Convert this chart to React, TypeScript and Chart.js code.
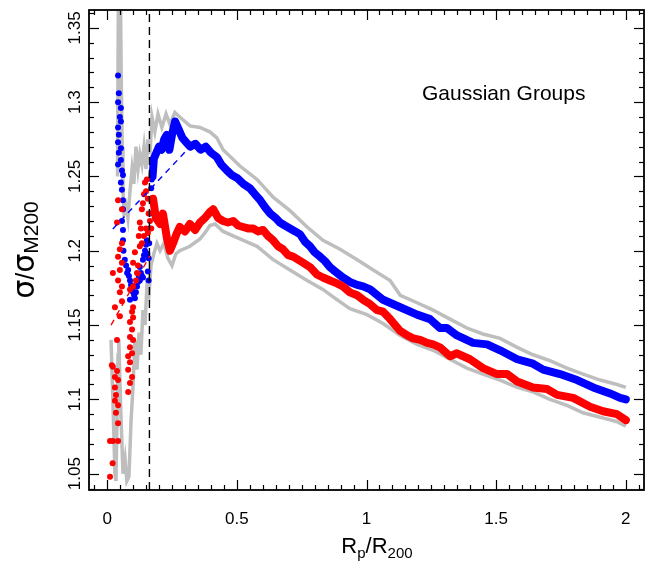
import React, { useEffect, useRef } from "react";
import { Chart, registerables } from "chart.js";

Chart.register(...registerables);

// ---- axis ranges and ticks ----
const xRange = [-0.07, 2.07];
const yRange = [1.039, 1.362];
const xTicks = [0, 0.5, 1, 1.5, 2];
const xTickLabels = ["0", "0.5", "1", "1.5", "2"];
const yTicks = [1.05, 1.1, 1.15, 1.2, 1.25, 1.3, 1.35];
const yTickLabels = ["1.05", "1.1", "1.15", "1.2", "1.25", "1.3", "1.35"];
const xMinorStep = 0.05;
const yMinorStep = 0.01;
const panelTitle = "Gaussian Groups";

// ---- data ----
const cutRadius = 0.163;

const blueDotsX = [0.042, 0.045, 0.042, 0.053, 0.049, 0.053, 0.042, 0.045, 0.042, 0.053, 0.045, 0.053, 0.042, 0.057, 0.061, 0.053, 0.057, 0.061, 0.061, 0.057, 0.061, 0.061, 0.063, 0.068, 0.073, 0.077, 0.081, 0.084, 0.088, 0.092, 0.096, 0.088, 0.100, 0.104, 0.107, 0.111, 0.115, 0.119, 0.122, 0.126, 0.130, 0.126, 0.134, 0.138, 0.138, 0.142, 0.146, 0.150, 0.153, 0.155, 0.157, 0.160, 0.160, 0.162, 0.164, 0.166, 0.168, 0.170, 0.172];
const blueDotsY = [1.318, 1.306, 1.300, 1.296, 1.290, 1.287, 1.283, 1.278, 1.273, 1.269, 1.266, 1.261, 1.258, 1.254, 1.251, 1.246, 1.241, 1.234, 1.228, 1.220, 1.214, 1.207, 1.200, 1.194, 1.190, 1.185, 1.187, 1.183, 1.180, 1.177, 1.174, 1.167, 1.172, 1.170, 1.168, 1.172, 1.176, 1.179, 1.183, 1.180, 1.185, 1.189, 1.183, 1.182, 1.194, 1.197, 1.200, 1.204, 1.207, 1.198, 1.186, 1.180, 1.195, 1.205, 1.215, 1.225, 1.235, 1.242, 1.248];

const blueLineX = [0.175, 0.180, 0.190, 0.200, 0.210, 0.220, 0.230, 0.240, 0.250, 0.262, 0.275, 0.290, 0.305, 0.320, 0.340, 0.360, 0.380, 0.400, 0.423, 0.440, 0.462, 0.480, 0.501, 0.525, 0.551, 0.570, 0.590, 0.610, 0.629, 0.650, 0.666, 0.685, 0.705, 0.725, 0.744, 0.763, 0.782, 0.800, 0.821, 0.840, 0.859, 0.880, 0.909, 0.936, 0.964, 0.987, 1.014, 1.064, 1.130, 1.195, 1.245, 1.283, 1.310, 1.349, 1.411, 1.465, 1.515, 1.581, 1.642, 1.681, 1.746, 1.812, 1.874, 1.939, 1.978, 2.000];
const blueLineY = [1.250, 1.262, 1.266, 1.270, 1.268, 1.275, 1.278, 1.268, 1.278, 1.287, 1.282, 1.276, 1.273, 1.270, 1.272, 1.268, 1.270, 1.266, 1.263, 1.258, 1.254, 1.251, 1.249, 1.245, 1.242, 1.238, 1.234, 1.229, 1.225, 1.222, 1.219, 1.217, 1.215, 1.213, 1.211, 1.206, 1.203, 1.199, 1.196, 1.193, 1.189, 1.186, 1.182, 1.179, 1.177, 1.176, 1.174, 1.167, 1.162, 1.157, 1.154, 1.148, 1.148, 1.143, 1.138, 1.137, 1.133, 1.127, 1.124, 1.120, 1.117, 1.113, 1.108, 1.104, 1.101, 1.100];

const redDotsX = [0.011, 0.021, 0.011, 0.022, 0.042, 0.042, 0.034, 0.042, 0.030, 0.034, 0.030, 0.042, 0.030, 0.038, 0.018, 0.022, 0.038, 0.049, 0.030, 0.057, 0.049, 0.057, 0.042, 0.022, 0.049, 0.057, 0.042, 0.049, 0.057, 0.038, 0.057, 0.042,
  0.081, 0.088, 0.096, 0.081, 0.088, 0.081, 0.096, 0.088, 0.100, 0.088, 0.096, 0.088, 0.100, 0.096, 0.100, 0.088, 0.100, 0.111, 0.115, 0.119, 0.100, 0.107, 0.126, 0.122, 0.130, 0.126, 0.134, 0.138, 0.142, 0.146, 0.153, 0.150, 0.157, 0.134, 0.142, 0.150, 0.157, 0.160, 0.165, 0.170];
const redDotsY = [1.048, 1.057, 1.072, 1.072, 1.072, 1.084, 1.091, 1.096, 1.099, 1.103, 1.108, 1.113, 1.115, 1.119, 1.123, 1.122, 1.140, 1.156, 1.162, 1.166, 1.172, 1.176, 1.180, 1.185, 1.187, 1.192, 1.196, 1.201, 1.205, 1.219, 1.228, 1.234,
  1.105, 1.111, 1.115, 1.120, 1.125, 1.129, 1.131, 1.135, 1.140, 1.142, 1.147, 1.152, 1.155, 1.159, 1.162, 1.174, 1.176, 1.180, 1.185, 1.190, 1.192, 1.199, 1.203, 1.210, 1.215, 1.219, 1.228, 1.232, 1.238, 1.246, 1.248, 1.240, 1.235, 1.205, 1.210, 1.215, 1.212, 1.225, 1.220, 1.215];

const redLineX = [0.177, 0.188, 0.204, 0.215, 0.231, 0.242, 0.254, 0.269, 0.280, 0.300, 0.319, 0.339, 0.358, 0.377, 0.396, 0.409, 0.428, 0.447, 0.466, 0.486, 0.505, 0.524, 0.543, 0.563, 0.582, 0.601, 0.620, 0.640, 0.659, 0.678, 0.698, 0.717, 0.736, 0.755, 0.782, 0.809, 0.832, 0.859, 0.886, 0.909, 0.936, 0.964, 0.987, 1.014, 1.041, 1.064, 1.091, 1.130, 1.157, 1.180, 1.207, 1.234, 1.257, 1.283, 1.322, 1.349, 1.360, 1.399, 1.449, 1.503, 1.542, 1.581, 1.642, 1.696, 1.735, 1.797, 1.862, 1.912, 1.966, 2.000];
const redLineY = [1.235, 1.222, 1.218, 1.225, 1.208, 1.200, 1.205, 1.212, 1.216, 1.213, 1.218, 1.214, 1.219, 1.222, 1.226, 1.228, 1.222, 1.220, 1.219, 1.220, 1.217, 1.216, 1.215, 1.215, 1.213, 1.214, 1.210, 1.207, 1.203, 1.201, 1.197, 1.196, 1.194, 1.192, 1.189, 1.184, 1.182, 1.180, 1.178, 1.176, 1.172, 1.170, 1.167, 1.164, 1.160, 1.159, 1.154, 1.146, 1.143, 1.141, 1.140, 1.138, 1.137, 1.135, 1.129, 1.131, 1.130, 1.127, 1.121, 1.117, 1.117, 1.112, 1.108, 1.107, 1.103, 1.101, 1.095, 1.092, 1.090, 1.086];

const greyUpX = [0.040, 0.044, 0.050, 0.054, 0.058, 0.061, 0.065, 0.073, 0.080, 0.088, 0.096, 0.103, 0.111, 0.119, 0.126, 0.134, 0.142, 0.150, 0.157, 0.165, 0.173, 0.184, 0.196, 0.211, 0.227, 0.242, 0.261, 0.280, 0.300, 0.319, 0.358, 0.396, 0.423, 0.447, 0.512, 0.578, 0.640, 0.705, 0.771, 0.832, 0.898, 0.964, 1.026, 1.091, 1.130, 1.195, 1.257, 1.322, 1.387, 1.449, 1.515, 1.581, 1.642, 1.707, 1.773, 1.835, 1.901, 1.966, 2.000];
const greyUpY = [1.25, 1.40, 1.40, 1.32, 1.27, 1.24, 1.225, 1.230, 1.222, 1.240, 1.255, 1.245, 1.270, 1.255, 1.265, 1.258, 1.270, 1.255, 1.275, 1.265, 1.290, 1.280, 1.292, 1.283, 1.292, 1.285, 1.293, 1.290, 1.287, 1.284, 1.283, 1.280, 1.276, 1.268, 1.257, 1.248, 1.236, 1.227, 1.216, 1.207, 1.201, 1.194, 1.187, 1.180, 1.170, 1.165, 1.160, 1.154, 1.148, 1.144, 1.141, 1.135, 1.130, 1.126, 1.121, 1.117, 1.113, 1.110, 1.108];

const greyLowX = [0.015, 0.022, 0.030, 0.034, 0.042, 0.045, 0.053, 0.061, 0.069, 0.076, 0.084, 0.092, 0.100, 0.107, 0.115, 0.123, 0.130, 0.138, 0.146, 0.153, 0.161, 0.169, 0.180, 0.192, 0.204, 0.219, 0.234, 0.250, 0.265, 0.280, 0.319, 0.358, 0.377, 0.396, 0.416, 0.447, 0.512, 0.578, 0.640, 0.705, 0.771, 0.832, 0.871, 0.936, 1.002, 1.064, 1.130, 1.195, 1.257, 1.322, 1.387, 1.449, 1.515, 1.581, 1.642, 1.707, 1.773, 1.835, 1.901, 1.966, 2.000];
const greyLowY = [1.14, 1.10, 1.05, 1.045, 1.13, 1.14, 1.09, 1.05, 1.06, 1.045, 1.048, 1.085, 1.11, 1.14, 1.12, 1.145, 1.13, 1.16, 1.15, 1.175, 1.17, 1.19, 1.198, 1.205, 1.20, 1.205, 1.195, 1.19, 1.198, 1.20, 1.203, 1.208, 1.212, 1.217, 1.218, 1.213, 1.208, 1.203, 1.194, 1.187, 1.180, 1.174, 1.169, 1.161, 1.157, 1.151, 1.143, 1.137, 1.133, 1.127, 1.121, 1.117, 1.113, 1.108, 1.105, 1.100, 1.096, 1.091, 1.088, 1.085, 1.082];

const blueFitX = [0.022, 0.319];
const blueFitY = [1.2147, 1.2699];
const redFitX = [0.015, 0.165];
const redFitY = [1.150, 1.1966];

const BLUE = "#0000ff";
const RED = "#ff0000";
const GREY = "#bebebe";
const FONT = '"Liberation Sans", Arial, Helvetica, sans-serif';

const pts = (xs: number[], ys: number[]) => xs.map((x, i) => ({ x, y: ys[i] }));

type Part = { t: string; size: number; dy: number; family?: string };

function drawRich(ctx: CanvasRenderingContext2D, parts: Part[], cx: number, baseY: number) {
  let total = 0;
  const widths = parts.map((p) => {
    ctx.font = `${p.size}px ${p.family || FONT}`;
    const w = ctx.measureText(p.t).width;
    total += w;
    return w;
  });
  let x = cx - total / 2;
  ctx.textAlign = "left";
  ctx.textBaseline = "alphabetic";
  parts.forEach((p, i) => {
    ctx.font = `${p.size}px ${p.family || FONT}`;
    ctx.fillText(p.t, x, baseY + p.dy);
    x += widths[i];
  });
}

const framePlugin = {
  id: "rframe",
  afterDatasetsDraw(chart: any) {
    const { ctx, chartArea: a, scales } = chart;
    const xs = scales.x;
    const ys = scales.y;
    ctx.save();
    ctx.strokeStyle = "#000";
    ctx.fillStyle = "#000";
    ctx.lineWidth = 1.2;
    const line = (x1: number, y1: number, x2: number, y2: number) => {
      ctx.beginPath();
      ctx.moveTo(x1, y1);
      ctx.lineTo(x2, y2);
      ctx.stroke();
    };
    const nx0 = Math.ceil(xRange[0] / xMinorStep);
    const nx1 = Math.floor(xRange[1] / xMinorStep);
    for (let k = nx0; k <= nx1; k++) {
      const v = k * xMinorStep;
      const px = Math.round(xs.getPixelForValue(v)) + 0.5;
      const major = xTicks.some((t) => Math.abs(t - v) < 1e-6);
      const L = major ? 10 : 5;
      line(px, a.bottom, px, a.bottom - L);
      line(px, a.top, px, a.top + L);
    }
    const ny0 = Math.ceil(yRange[0] / yMinorStep - 1e-6);
    const ny1 = Math.floor(yRange[1] / yMinorStep + 1e-6);
    for (let k = ny0; k <= ny1; k++) {
      const v = k * yMinorStep;
      const py = Math.round(ys.getPixelForValue(v)) + 0.5;
      const major = yTicks.some((t) => Math.abs(t - v) < 1e-6);
      const L = major ? 10 : 5;
      line(a.left, py, a.left + L, py);
      line(a.right, py, a.right - L, py);
    }
    ctx.lineWidth = 1.8;
    ctx.strokeRect(a.left, a.top, a.right - a.left, a.bottom - a.top);

    ctx.font = `17px ${FONT}`;
    ctx.textAlign = "center";
    ctx.textBaseline = "alphabetic";
    xTicks.forEach((v, i) => ctx.fillText(xTickLabels[i], xs.getPixelForValue(v), a.bottom + 34));
    yTicks.forEach((v, i) => {
      ctx.save();
      ctx.translate(a.left - 9, ys.getPixelForValue(v));
      ctx.rotate(-Math.PI / 2);
      ctx.fillText(yTickLabels[i], 0, 0);
      ctx.restore();
    });

    ctx.font = `21px ${FONT}`;
    ctx.textAlign = "left";
    ctx.fillText(panelTitle, 422, 100);

    drawRich(
      ctx,
      [
        { t: "R", size: 22, dy: 0 },
        { t: "p", size: 15, dy: 5 },
        { t: "/", size: 22, dy: 0 },
        { t: "R", size: 22, dy: 0 },
        { t: "200", size: 15, dy: 5 },
      ],
      377,
      553
    );
    ctx.save();
    ctx.translate(34, 250);
    ctx.rotate(-Math.PI / 2);
    drawRich(
      ctx,
      [
        { t: "σ", size: 30, dy: 0, family: '"DejaVu Sans", sans-serif' },
        { t: "/", size: 25, dy: 0 },
        { t: "σ", size: 30, dy: 0, family: '"DejaVu Sans", sans-serif' },
        { t: "M200", size: 21, dy: 4 },
      ],
      0,
      0
    );
    ctx.restore();
    ctx.restore();
  },
};

export default function App() {
  const ref = useRef<HTMLCanvasElement>(null);
  useEffect(() => {
    document.body.style.margin = "0";
    const canvas = ref.current;
    if (!canvas) return;
    const lineDs = (xs: number[], ys: number[], color: string, width: number, order: number, extra: any = {}) => ({
      data: pts(xs, ys),
      showLine: true,
      borderColor: color,
      backgroundColor: color,
      borderWidth: width,
      pointRadius: 0,
      borderCapStyle: "round",
      borderJoinStyle: "round",
      order,
      clip: 0,
      ...extra,
    });
    const dotDs = (xs: number[], ys: number[], color: string, order: number) => ({
      data: pts(xs, ys),
      showLine: false,
      pointRadius: 3,
      pointBorderWidth: 0,
      backgroundColor: color,
      borderColor: color,
      order,
      clip: 0,
    });
    const chart = new Chart(canvas, {
      type: "scatter",
      data: {
        datasets: [
          lineDs([cutRadius, cutRadius], [yRange[0], yRange[1]], "#000", 1.4, 0, { borderDash: [8, 5], borderCapStyle: "butt" }),
          lineDs(blueFitX, blueFitY, BLUE, 1.4, 1, { borderDash: [6, 5], borderCapStyle: "butt" }),
          lineDs(redFitX, redFitY, RED, 1.4, 1, { borderDash: [6, 5], borderCapStyle: "butt" }),
          dotDs(redDotsX, redDotsY, RED, 2),
          lineDs(redLineX, redLineY, RED, 8, 2),
          dotDs(blueDotsX, blueDotsY, BLUE, 3),
          lineDs(blueLineX, blueLineY, BLUE, 8, 3),
          lineDs(greyUpX, greyUpY, GREY, 3.5, 4, { borderJoinStyle: "miter", borderCapStyle: "butt" }),
          lineDs(greyLowX, greyLowY, GREY, 3.5, 4, { borderJoinStyle: "miter", borderCapStyle: "butt" }),
        ] as any,
      },
      options: {
        animation: false,
        responsive: false,
        maintainAspectRatio: false,
        events: [],
        layout: { padding: { left: 89, right: 5, top: 10, bottom: 71 } },
        plugins: { legend: { display: false }, tooltip: { enabled: false } },
        elements: { line: { tension: 0 } },
        scales: {
          x: { type: "linear", display: false, min: xRange[0], max: xRange[1] },
          y: { type: "linear", display: false, min: yRange[0], max: yRange[1] },
        },
      } as any,
      plugins: [framePlugin],
    });
    return () => chart.destroy();
  }, []);
  return (
    <div style={{ position: "absolute", left: 0, top: 0, width: 649, height: 561, background: "#fff" }}>
      <canvas ref={ref} width={649} height={561} style={{ display: "block" }} />
    </div>
  );
}
